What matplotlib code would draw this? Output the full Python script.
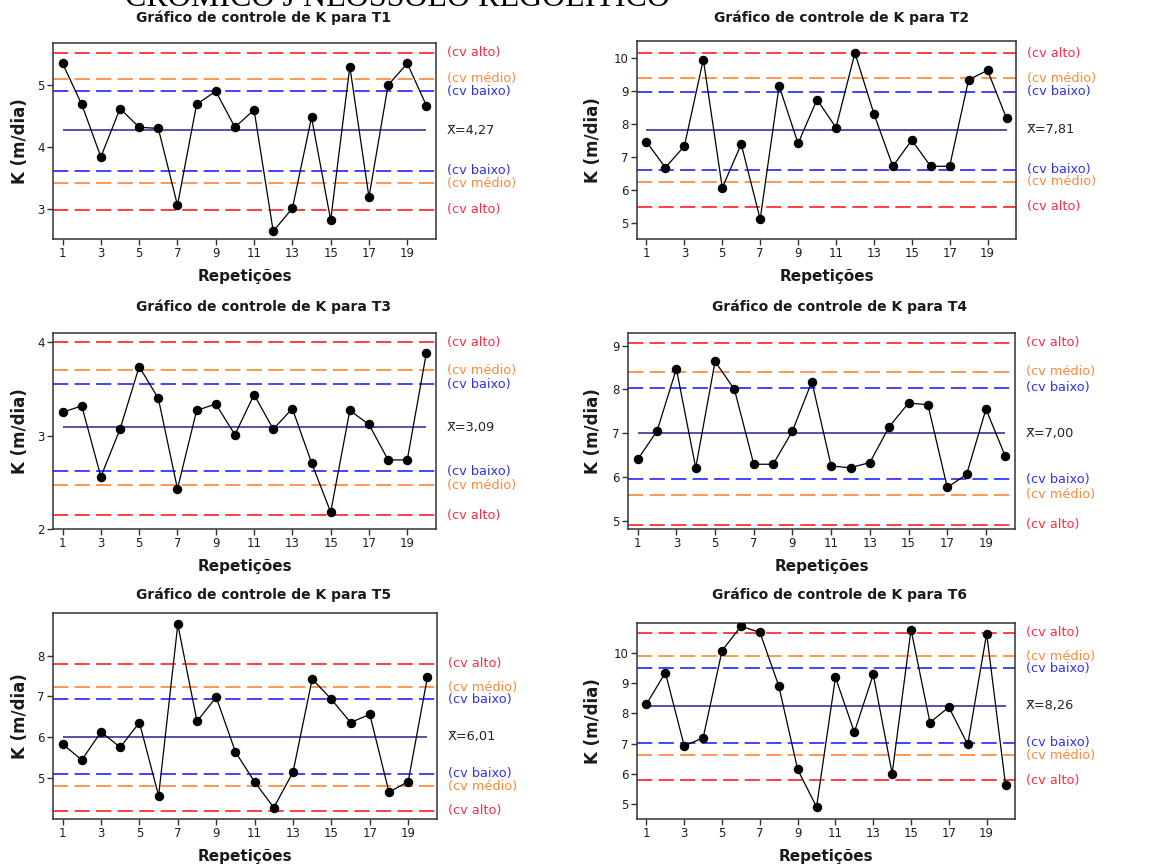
import matplotlib
matplotlib.use("Agg")
import matplotlib.pyplot as plt
from matplotlib.transforms import blended_transform_factory

plt.rcParams['font.family'] = ['DejaVu Sans']
plt.rcParams['lines.scale_dashes'] = False

W, H = 1154, 868
DPI = 100

reps = list(range(1, 21))

t1_k = [5.35, 4.69, 3.84, 4.62, 4.32, 4.30, 3.06, 4.69, 4.90, 4.32,
        4.60, 2.64, 3.01, 4.48, 2.82, 5.30, 3.19, 5.00, 5.35, 4.67]
t2_k = [7.45, 6.67, 7.32, 9.94, 6.06, 7.38, 5.11, 9.14, 7.40, 8.73,
        7.88, 10.14, 8.30, 6.71, 7.50, 6.71, 6.71, 9.33, 9.61, 8.16]
t3_k = [3.25, 3.32, 2.56, 3.07, 3.74, 3.40, 2.43, 3.27, 3.34, 3.01,
        3.44, 3.07, 3.29, 2.71, 2.18, 3.27, 3.12, 2.74, 2.74, 3.89]
t4_k = [6.40, 7.05, 8.47, 6.21, 8.64, 8.00, 6.29, 6.29, 7.05, 8.18,
        6.25, 6.21, 6.33, 7.15, 7.69, 7.65, 5.76, 6.06, 7.55, 6.47]
t5_k = [5.83, 5.44, 6.13, 5.75, 6.36, 4.56, 8.77, 6.39, 6.98, 5.64,
        4.90, 4.27, 5.14, 7.43, 6.93, 6.36, 6.56, 4.65, 4.91, 7.47]
t6_k = [8.31, 9.36, 6.92, 7.19, 10.09, 10.90, 10.70, 8.92, 6.14, 4.89,
        9.20, 7.38, 9.30, 6.00, 10.79, 7.70, 8.21, 6.97, 10.66, 5.62]

# mean and control limits: (cv baixo, cv medio, cv alto) lower and upper
t1_mean, t1_lower, t1_upper = 4.27, [3.615, 3.415, 2.99], [4.90, 5.10, 5.52]
t2_mean, t2_lower, t2_upper = 7.81, [6.60, 6.24, 5.48], [8.96, 9.38, 10.13]
t3_mean, t3_lower, t3_upper = 3.09, [2.62, 2.47, 2.15], [3.55, 3.70, 4.00]
t4_mean, t4_lower, t4_upper = 7.00, [5.95, 5.59, 4.91], [8.04, 8.40, 9.07]
t5_mean, t5_lower, t5_upper = 6.01, [5.10, 4.79, 4.19], [6.93, 7.23, 7.80]
t6_mean, t6_lower, t6_upper = 8.26, [7.02, 6.61, 5.78], [9.50, 9.91, 10.69]

limit_names = ["(cv baixo)", "(cv médio)", "(cv alto)"]
limit_colors = ["#2424ff", "#ff8533", "#ff2020"]
label_colors = ["#3030ee", "#ff8838", "#ff2a44"]

titles = ["Gráfico de controle de K para T%d" % i for i in range(1, 7)]
xticks = [1, 3, 5, 7, 9, 11, 13, 15, 17, 19]
yticks = [[3, 4, 5], [5, 6, 7, 8, 9, 10], [2, 3, 4],
          [5, 6, 7, 8, 9], [5, 6, 7, 8], [5, 6, 7, 8, 9, 10]]
ylims = [(2.515, 5.68), (4.51, 10.50), (2.0, 4.10),
         (4.81, 9.29), (3.99, 9.05), (4.49, 11.01)]

series = [t1_k, t2_k, t3_k, t4_k, t5_k, t6_k]
means = [t1_mean, t2_mean, t3_mean, t4_mean, t5_mean, t6_mean]
lowers = [t1_lower, t2_lower, t3_lower, t4_lower, t5_lower, t6_lower]
uppers = [t1_upper, t2_upper, t3_upper, t4_upper, t5_upper, t6_upper]

# layout in pixels (left, top, right, bottom)
boxes = [(53, 43, 436, 239), (637, 41, 1016, 239),
         (53, 333, 436, 529), (628, 333, 1015, 529),
         (53, 613, 437, 819), (637, 623, 1015, 819)]
title_pos = [(264, 18), (842, 18), (264, 307), (840, 307), (264, 595), (840, 595)]
ylabel_x = [20, 593, 20, 593, 20, 593]

fig = plt.figure(figsize=(W / DPI, H / DPI), dpi=DPI)
fig.patch.set_facecolor("white")

# cropped heading from the page above (only its lower part is visible)
fig.text(125 / W, 1 - 6 / H, "CRÔMICO J NEOSSOLO REGOLÍTICO",
         family=["Liberation Serif", "DejaVu Serif"], fontsize=23,
         ha="left", va="baseline", color="black")

dash = (11, 4.5)

for i in range(6):
    l, t, r, b = boxes[i]
    ax = fig.add_axes([l / W, 1 - b / H, (r - l) / W, (b - t) / H])
    ax.set_xlim(0.5, 20.5)
    ax.set_ylim(*ylims[i])
    for j in range(3):
        for val in (lowers[i][j], uppers[i][j]):
            ax.axhline(val, color=limit_colors[j], lw=1.2, ls=(0, dash), zorder=1)
    ax.hlines(means[i], reps[0], reps[-1], color="#25258f", lw=1.1, zorder=2)
    ax.plot(reps, series[i], color="black", lw=0.9, marker="o", ms=5.8,
            mfc="black", mec="black", zorder=3)
    ax.set_xticks(xticks)
    ax.set_yticks(yticks[i])
    ax.tick_params(direction="out", length=4, width=1, colors="#333333",
                   labelsize=8.5, pad=2, labelcolor="#1e1e1e")
    for s in ax.spines.values():
        s.set_color("#333333")
        s.set_linewidth(1.1)
    trans = blended_transform_factory(ax.transAxes, ax.transData)
    xoff = 1 + 11 / (r - l)
    for j in [2, 1, 0]:
        ax.text(xoff, uppers[i][j], limit_names[j], transform=trans,
                color=label_colors[j], fontsize=9.3, ha="left", va="center",
                clip_on=False)
    for j in [2, 0, 1]:
        ax.text(xoff, lowers[i][j], limit_names[j], transform=trans,
                color=label_colors[j], fontsize=9.3, ha="left", va="center",
                clip_on=False)
    mean_txt = "X\u0304=" + ("%.2f" % means[i]).replace(".", ",")
    ax.text(xoff, means[i], mean_txt, transform=trans, color="#222222",
            fontsize=9.3, ha="left", va="center", clip_on=False)
    fig.text(title_pos[i][0] / W, 1 - title_pos[i][1] / H, titles[i],
             fontsize=10, fontweight="bold", ha="center", va="center",
             color="#1a1a1a")
    fig.text(((l + r) / 2) / W, 1 - (b + 38) / H, "Repetições",
             fontsize=11, fontweight="bold", ha="center", va="center",
             color="#1a1a1a")
    fig.text(ylabel_x[i] / W, 1 - ((t + b) / 2) / H, "K (m/dia)",
             fontsize=12, fontweight="bold", ha="center", va="center",
             rotation=90, color="#1a1a1a")

fig.savefig("out.png", dpi=DPI, facecolor="white")
